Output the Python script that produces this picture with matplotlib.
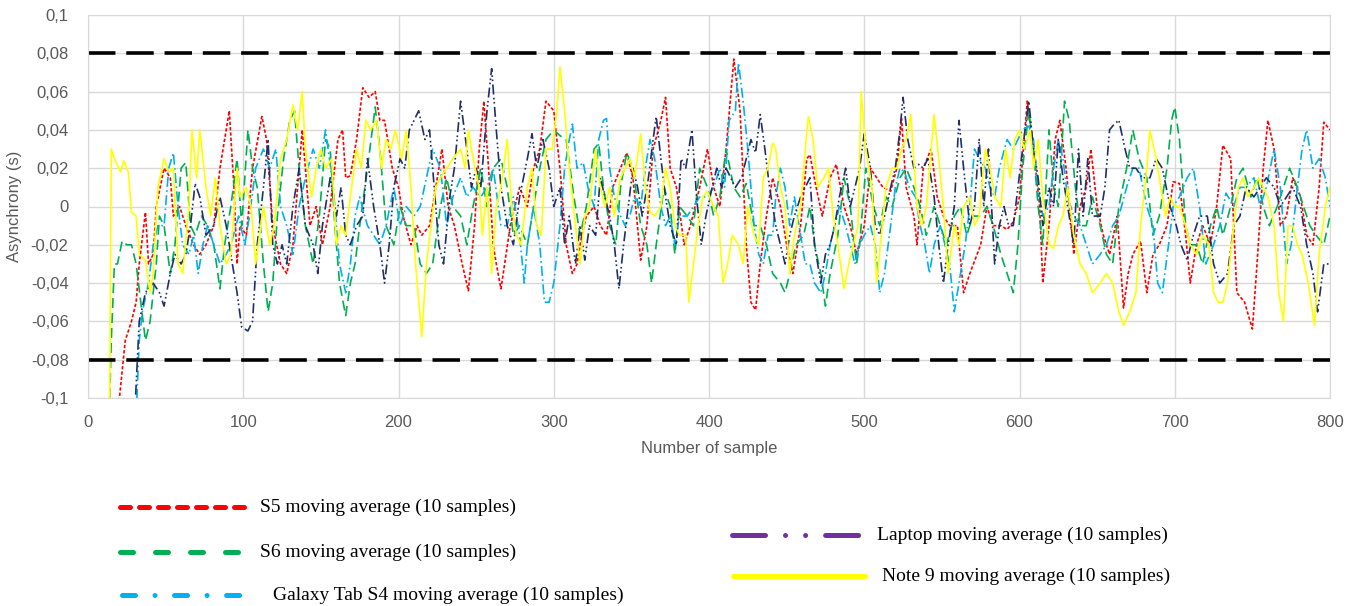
import matplotlib
matplotlib.use("Agg")
import numpy as np
from matplotlib import pyplot as plt
from matplotlib.lines import Line2D

# values (sample number, asynchrony in s)
s5_x = [19,24,28,31,33,37,39,42,44,49,53,55,59,63,68,72,76,81,85,91,94,96,98,102,106,112,115,119,124,128,132,138,143,147,151,156,161,164,166,169,173,177,181,185,188,191,196,200,203,208,212,215,220,224,228,232,236,241,245,249,252,255,258,261,263,266,272,278,283,287,291,295,300,304,308,312,315,318,321,326,330,334,338,343,347,351,356,360,364,369,372,375,379,384,388,394,399,403,407,411,416,420,424,427,430,433,437,441,446,450,454,459,463,465,469,473,478,482,487,491,495,500,504,508,512,517,521,524,527,532,534,538,543,547,551,555,560,564,568,575,579,583,588,592,596,600,605,609,613,615,619,623,626,630,635,639,643,646,650,654,658,663,667,670,673,678,682,686,690,695,699,703,707,710,714,718,723,727,731,736,740,745,750,753,757,760,764,768,772,776,781,785,789,793,796,800]
s5_y = [-0.11,-0.07,-0.06,-0.05,-0.03,-0.003,-0.03,-0.025,0.0,0.02,0.015,-0.005,0.0,-0.01,-0.02,-0.025,-0.02,-0.01,0.02,0.05,0.01,-0.03,-0.01,-0.015,0.02,0.047,0.035,-0.01,-0.03,-0.035,-0.02,0.04,-0.01,0.0,-0.02,0.0,0.035,0.04,0.015,0.016,0.035,0.062,0.057,0.06,0.045,0.045,0.02,0.01,-0.005,-0.02,-0.01,-0.015,-0.01,0.01,0.03,0.0,-0.01,-0.03,-0.044,-0.01,0.03,0.055,0.02,-0.02,-0.03,-0.043,-0.01,0.01,0.0,0.02,0.03,0.055,0.05,0.02,-0.02,-0.035,-0.03,-0.015,-0.005,0.0,-0.01,-0.015,0.01,0.02,0.028,0.015,-0.028,-0.01,0.03,0.045,0.057,0.02,0.01,-0.02,-0.01,0.01,0.03,0.01,0.0,0.03,0.077,0.05,-0.02,-0.05,-0.054,-0.03,-0.005,0.015,0.0,-0.02,-0.035,-0.01,0.025,0.027,0.01,-0.005,0.015,0.022,0.0,-0.01,-0.025,-0.01,0.02,0.015,0.01,0.008,0.02,0.046,0.01,-0.005,-0.02,0.02,0.03,0.005,-0.005,-0.01,-0.01,-0.045,-0.035,-0.02,0.0,-0.01,-0.01,-0.012,-0.008,0.005,0.055,0.03,0.0,-0.04,-0.01,0.035,0.045,0.02,-0.025,0.0,0.01,0.03,0.0,-0.015,-0.025,-0.005,-0.053,-0.035,-0.025,-0.018,-0.045,-0.025,-0.02,-0.01,0.013,0.012,-0.015,-0.04,-0.02,-0.01,-0.02,0.0,0.032,0.025,-0.045,-0.05,-0.064,-0.03,0.02,0.045,0.03,-0.01,-0.005,0.015,0.005,-0.015,-0.02,0.01,0.044,0.04]

s6_x = [14,15,17,19,22,25,28,31,34,37,40,44,46,49,53,56,60,63,66,69,73,77,81,85,88,92,96,99,103,106,109,113,116,119,122,126,130,133,136,140,145,149,153,156,159,162,166,169,172,175,180,185,188,192,197,201,205,210,214,218,222,227,231,235,240,244,248,253,257,261,266,270,274,278,283,287,291,295,300,304,308,313,317,321,326,329,332,336,340,343,347,351,356,360,363,366,371,375,378,381,386,390,394,399,403,407,411,416,420,424,429,433,437,441,446,449,452,456,461,465,468,472,475,478,483,487,491,495,497,501,506,510,514,518,523,527,532,536,540,545,549,553,558,562,566,570,575,579,583,588,592,596,599,602,606,609,612,615,619,622,625,629,632,636,639,643,647,652,656,660,664,669,673,677,682,686,690,695,698,700,703,707,710,714,718,723,727,731,736,740,744,749,753,757,761,766,770,774,779,783,787,791,796,800]
s6_y = [-0.1,-0.07,-0.03,-0.03,-0.018,-0.02,-0.02,-0.03,-0.05,-0.07,-0.06,-0.03,-0.005,-0.01,-0.035,-0.02,0.02,0.023,-0.01,-0.015,-0.005,-0.01,-0.02,-0.043,-0.02,0.0,0.025,-0.01,0.04,0.02,0.01,-0.03,-0.055,-0.04,-0.005,0.025,0.045,0.05,0.02,-0.01,-0.03,-0.005,0.035,0.03,-0.01,-0.04,-0.057,-0.04,-0.03,-0.01,0.02,0.052,0.03,-0.01,-0.02,0.0,-0.01,-0.01,-0.03,-0.035,-0.03,0.0,0.015,0.0,-0.005,-0.02,0.0,0.02,0.0,0.02,0.025,0.01,-0.015,-0.01,-0.02,0.0,0.02,0.035,0.04,0.037,0.035,0.005,-0.015,0.0,0.03,0.033,0.01,-0.01,-0.02,0.01,0.028,0.02,-0.01,-0.02,-0.04,-0.02,0.01,0.0,-0.025,0.0,-0.005,-0.01,0.02,0.01,-0.005,0.005,0.03,0.01,0.005,0.012,-0.01,-0.01,-0.02,-0.035,-0.04,-0.045,-0.035,-0.02,-0.015,0.0,-0.02,-0.035,-0.052,-0.035,-0.015,0.015,0.0,-0.03,-0.02,0.02,0.0,-0.01,0.005,0.0,0.015,0.02,0.01,0.0,-0.015,0.0,-0.01,-0.02,-0.005,0.0,-0.015,-0.005,-0.005,0.0,-0.01,-0.025,-0.035,-0.045,-0.02,0.02,0.05,0.03,0.0,-0.02,0.04,0.01,0.0,0.055,0.045,0.01,-0.01,-0.01,0.005,-0.01,-0.025,-0.03,0.0,0.02,0.04,0.025,0.015,-0.015,-0.005,0.02,0.045,0.052,0.035,-0.01,-0.02,-0.02,-0.03,-0.01,0.0,-0.015,0.0,0.015,0.02,0.005,0.015,0.0,-0.01,0.0,0.01,0.02,0.01,0.0,-0.01,-0.015,-0.02,-0.005]

tab_x = [31,33,35,39,42,45,49,52,55,58,61,65,68,71,74,77,81,85,89,92,97,101,104,108,113,117,121,124,128,132,136,140,145,149,153,158,162,166,169,172,175,180,184,188,192,197,201,205,210,214,218,222,227,231,235,240,244,248,253,257,261,266,270,274,278,281,283,287,291,294,297,300,304,307,310,312,315,319,322,326,329,332,334,336,339,343,346,349,352,356,359,362,365,369,372,375,378,381,386,390,394,399,403,407,410,413,417,419,422,425,429,432,435,438,441,443,446,449,452,455,459,462,465,468,472,475,478,481,484,488,491,494,497,500,504,507,510,513,517,520,523,526,529,533,536,539,542,545,549,552,555,558,561,565,568,571,574,578,581,584,587,592,596,599,602,606,609,612,615,619,622,625,628,631,635,639,643,647,652,656,660,664,669,673,677,682,686,689,692,696,699,703,708,712,716,720,725,729,733,738,742,746,751,755,759,764,768,772,775,779,782,785,789,793,797,800]
tab_y = [-0.11,-0.07,-0.055,-0.04,-0.02,-0.01,-0.01,0.02,0.028,0.0,-0.02,-0.025,-0.015,-0.035,-0.02,-0.01,-0.02,-0.03,-0.025,-0.02,-0.005,-0.02,-0.005,0.02,0.03,0.02,0.03,0.0,-0.01,-0.025,0.0,0.015,0.03,0.02,0.04,0.01,-0.03,-0.045,-0.03,-0.005,0.005,-0.01,-0.015,-0.02,-0.01,0.01,-0.01,0.0,-0.005,0.0,0.015,0.03,0.02,-0.01,0.005,0.015,0.005,0.01,0.005,0.01,0.02,-0.01,-0.01,0.005,-0.015,-0.04,-0.02,0.0,-0.02,-0.05,-0.05,-0.04,-0.01,0.02,0.035,0.043,0.02,0.023,0.01,0.0,0.035,0.045,0.046,0.02,0.005,-0.005,-0.01,-0.005,0.005,0.0,0.02,0.035,0.025,0.0,-0.01,-0.005,-0.02,-0.005,-0.005,0.0,0.005,0.005,0.01,0.02,0.01,0.045,0.05,0.075,0.055,0.03,-0.01,-0.025,-0.03,-0.015,-0.015,0.005,0.02,0.01,-0.01,0.005,-0.015,-0.03,-0.03,-0.04,-0.045,-0.035,-0.02,-0.01,0.0,-0.01,-0.02,-0.03,-0.02,-0.015,-0.01,-0.02,-0.045,-0.035,-0.01,0.01,0.02,0.018,0.01,0.005,-0.01,-0.02,-0.035,-0.02,-0.01,-0.02,-0.03,-0.055,-0.04,-0.02,0.0,0.03,0.025,0.02,0.01,0.005,0.02,0.035,0.03,0.035,0.04,0.042,0.035,0.01,-0.005,0.0,0.02,0.035,0.025,0.005,-0.005,-0.01,-0.02,-0.03,-0.025,-0.02,-0.01,-0.005,0.01,0.02,0.02,0.0,-0.01,-0.04,-0.045,-0.02,0.0,0.005,0.015,0.02,0.0,-0.03,-0.02,-0.01,0.007,0.0,0.01,0.01,0.015,0.0,0.01,0.03,0.01,-0.03,-0.02,0.01,0.03,0.04,0.02,0.025,0.015,0.0]

laptop_x = [30,33,37,42,46,49,53,56,60,63,66,69,72,76,81,85,89,92,96,99,103,106,109,113,116,119,122,125,128,132,136,140,145,148,151,156,160,163,166,169,173,177,180,184,188,191,194,197,201,204,207,210,213,217,220,223,226,229,233,236,240,244,247,250,253,257,260,263,266,270,274,278,283,286,289,293,297,300,304,307,310,314,317,320,323,327,330,333,336,339,342,345,348,351,354,357,361,364,366,369,372,375,379,382,385,389,392,395,398,402,405,408,411,414,417,421,424,427,430,433,436,439,443,446,449,452,455,459,462,465,468,472,475,478,481,484,488,491,494,497,500,504,507,510,513,517,520,523,525,528,532,535,538,541,545,548,551,554,558,561,564,568,571,574,577,580,584,587,590,593,596,599,602,606,609,612,615,619,622,625,628,631,635,638,641,644,647,652,655,658,661,664,668,671,675,679,684,688,692,697,701,704,708,712,716,721,725,729,734,738,742,746,751,755,759,764,768,772,776,781,785,789,792,796,800]
laptop_y = [-0.11,-0.06,-0.045,-0.04,-0.045,-0.052,-0.035,-0.025,-0.03,-0.025,-0.01,0.012,0.005,-0.015,-0.01,0.005,-0.01,-0.025,-0.045,-0.063,-0.065,-0.06,-0.02,0.01,0.035,-0.02,-0.03,-0.02,-0.03,0.0,0.02,-0.01,-0.02,-0.035,-0.01,0.015,-0.005,0.01,-0.015,-0.02,-0.01,-0.005,0.025,0.0,-0.02,-0.04,-0.02,0.01,0.025,0.02,0.04,0.045,0.05,0.035,0.04,0.01,-0.02,-0.03,0.005,0.02,0.055,0.03,0.01,0.02,0.01,0.05,0.072,0.04,0.01,-0.01,-0.02,0.005,0.025,0.038,0.02,0.035,0.02,0.0,0.01,-0.02,-0.005,-0.03,-0.01,-0.028,-0.01,-0.015,0.015,0.005,-0.005,-0.02,-0.043,-0.02,0.0,0.02,0.01,-0.005,0.015,0.035,0.047,0.025,0.005,-0.01,-0.02,0.025,0.02,0.04,0.005,-0.02,-0.005,0.01,0.02,0.01,0.02,0.015,0.01,0.015,0.025,0.035,0.028,0.048,0.03,0.01,-0.01,-0.02,-0.03,-0.015,-0.005,0.005,0.01,0.015,-0.02,-0.04,-0.025,-0.02,-0.01,0.005,0.02,0.0,0.01,0.02,0.038,0.02,-0.01,-0.015,-0.005,0.01,0.02,0.04,0.057,0.035,0.02,0.022,0.02,0.025,0.005,-0.02,-0.04,-0.02,0.0,0.045,0.02,-0.01,0.0,0.035,0.0,0.03,-0.03,-0.01,0.0,-0.01,-0.01,0.01,0.03,0.055,0.03,0.015,-0.01,0.01,0.0,0.035,0.015,0.0,-0.02,0.03,-0.005,0.025,-0.005,-0.005,0.01,0.04,0.043,0.045,0.03,0.02,0.02,0.015,0.015,0.025,0.02,0.0,-0.01,-0.02,-0.028,-0.015,-0.005,-0.005,-0.03,-0.04,-0.035,-0.01,-0.005,0.01,0.005,0.01,0.015,0.01,0.0,0.005,0.01,0.0,-0.02,-0.035,-0.055,-0.03,-0.03]

note9_x = [14,15,17,21,23,26,28,31,33,37,40,42,45,49,52,55,58,61,65,67,70,72,76,79,82,85,89,92,96,98,102,105,108,113,117,120,124,128,132,135,138,140,144,147,150,153,157,160,163,166,169,173,176,179,182,186,189,192,195,198,202,205,208,211,215,218,221,224,227,231,235,240,243,245,248,252,254,257,260,263,266,270,273,276,279,283,286,289,292,295,299,302,304,307,310,314,317,320,323,327,330,333,336,339,343,346,349,352,356,359,362,365,369,372,375,378,381,385,387,390,393,396,399,403,406,409,412,415,419,422,425,429,432,435,438,441,443,446,449,452,455,459,462,464,467,470,474,477,480,483,487,490,493,496,498,501,505,508,511,514,518,521,524,527,530,534,537,540,545,548,551,554,558,561,564,568,571,574,578,581,584,588,591,594,597,600,603,607,609,612,615,619,622,625,628,631,635,639,643,647,652,656,660,664,667,671,675,678,682,684,688,691,694,697,700,703,707,710,714,718,722,725,728,731,734,738,741,744,747,751,754,757,760,764,767,770,773,776,779,782,786,790,793,797,800]
note9_y = [-0.1,0.03,0.025,0.018,0.024,0.018,-0.003,-0.005,-0.025,-0.028,-0.045,-0.035,0.01,0.025,0.018,0.02,-0.03,-0.035,0.0,0.04,0.015,0.04,0.01,-0.005,0.015,-0.01,-0.03,-0.025,0.02,0.005,0.01,0.0,-0.03,0.0,-0.02,-0.01,0.025,0.035,0.053,0.04,0.06,0.03,0.005,0.02,0.03,0.02,0.025,-0.02,-0.01,-0.015,0.005,0.03,0.02,0.045,0.04,0.045,0.02,0.035,0.03,0.04,0.025,0.04,0.01,-0.03,-0.068,-0.03,-0.01,0.01,0.015,0.02,0.025,0.03,0.02,0.04,0.025,0.01,-0.015,0.01,-0.035,0.0,0.01,0.035,0.0,-0.015,-0.02,0.01,0.02,-0.01,-0.015,0.03,0.03,0.05,0.073,0.05,0.02,-0.01,-0.03,-0.005,0.0,0.03,0.01,0.0,0.01,-0.005,0.015,0.02,0.025,0.015,0.038,0.01,-0.003,-0.005,0.0,0.02,0.01,-0.01,-0.015,-0.015,-0.05,-0.03,-0.01,0.005,0.008,0.0,-0.005,-0.04,-0.03,-0.015,-0.02,-0.03,0.0,-0.015,-0.02,0.015,0.02,0.033,0.03,0.01,0.0,-0.035,-0.015,0.0,0.03,0.047,0.035,0.01,0.015,0.02,-0.005,-0.02,-0.043,-0.03,-0.02,-0.01,0.06,0.03,0.01,-0.04,-0.015,0.01,0.02,0.02,0.03,0.035,0.048,0.0,-0.01,0.0,0.048,0.025,0.0,-0.035,-0.01,-0.02,0.0,0.005,-0.01,-0.005,0.03,0.02,0.005,0.0,0.03,0.015,0.035,0.04,0.03,0.04,0.02,0.035,0.005,-0.02,-0.022,-0.01,-0.005,0.01,-0.015,-0.03,-0.035,-0.045,-0.04,-0.035,-0.04,-0.055,-0.062,-0.055,-0.045,-0.01,0.02,0.04,0.025,0.01,-0.005,0.005,0.0,0.0,-0.01,-0.02,-0.025,-0.015,-0.02,-0.045,-0.05,-0.05,-0.04,-0.01,0.01,0.015,0.005,0.01,0.015,0.01,0.005,-0.01,-0.045,-0.06,-0.01,-0.01,-0.02,-0.025,-0.04,-0.062,-0.025,0.0,0.01]

limit = 0.08
y_ticks = [-0.1, -0.08, -0.06, -0.04, -0.02, 0, 0.02, 0.04, 0.06, 0.08, 0.1]
y_labels = ['-0,1', '-0,08', '-0,06', '-0,04', '-0,02', '0', '0,02', '0,04', '0,06', '0,08', '0,1']
x_ticks = [0, 100, 200, 300, 400, 500, 600, 700, 800]

W, H = 1359, 606
fig = plt.figure(figsize=(W / 100, H / 100), dpi=100)
ax = fig.add_axes([88 / W, 1 - 398 / H, (1330 - 88) / W, (398 - 15) / H])

grid_c = '#D9D9D9'
txt_c = '#595959'

ax.plot(s5_x, s5_y, color='#FF0000', lw=1.2, ls=(0, (2, 1.2)))
ax.plot(s6_x, s6_y, color='#00B050', lw=1.2, ls=(0, (6, 3)))
ax.plot(tab_x, tab_y, color='#00B0F0', lw=1.2, ls=(0, (6, 2, 1, 2)))
ax.plot(laptop_x, laptop_y, color='#1F2F6B', lw=1.2, ls=(0, (6, 2, 1, 1.5, 1, 2)))
ax.plot(note9_x, note9_y, color='#FFFF00', lw=1.2, ls='-')

for lv in (limit, -limit):
    ax.axhline(lv, color='black', lw=2.6, dashes=(7.6, 3.0))

ax.set_xlim(0, 800)
ax.set_ylim(-0.1, 0.1)
ax.set_yticks(y_ticks)
ax.set_yticklabels(y_labels)
ax.set_xticks(x_ticks)
ax.grid(True, color=grid_c, lw=1)
ax.set_axisbelow(True)
for sp in ax.spines.values():
    sp.set_color(grid_c)
ax.tick_params(length=0, labelsize=12, labelcolor=txt_c)
ax.tick_params(axis='y', pad=14)
ax.tick_params(axis='x', pad=12)
for lab in ax.get_xticklabels() + ax.get_yticklabels():
    lab.set_family('Liberation Sans')
ax.set_xlabel('Number of sample', fontsize=12, color=txt_c, family='Liberation Sans', labelpad=8)
ax.set_ylabel('Asynchrony (s)', fontsize=12, color=txt_c, family='Liberation Sans', labelpad=6)

# legend drawn as separate block under the chart
def fx(px):
    return px / W

def fy(py):
    return 1 - py / H

leg_items = [
    (120, 245, 507, '#FF0000', (0, (2.0, 1.8)), 260, 'S5 moving average (10 samples)'),
    (120, 245, 552, '#00B050', (0, (2.6, 4.4)), 260, 'S6 moving average (10 samples)'),
    (122, 245, 595, '#00B0F0', (0, (2.6, 3.9, 0.01, 3.9)), 273, 'Galaxy Tab S4 moving average (10 samples)'),
    (732, 864, 535, '#7030A0', (0, (6.6, 4.0, 0.01, 4.0, 0.01, 4.0)), 877, 'Laptop moving average (10 samples)'),
    (733, 865, 576, '#FFFF00', '-', 882, 'Note 9 moving average (10 samples)'),
]
for x0, x1, yy, col, ls, tx, label in leg_items:
    ln = Line2D([fx(x0), fx(x1)], [fy(yy), fy(yy)], transform=fig.transFigure,
                color=col, lw=3.6, ls=ls, solid_capstyle='round', dash_capstyle='round')
    fig.add_artist(ln)
    fig.text(fx(tx), fy(yy), label, fontsize=14, family='Liberation Serif',
             va='center', ha='left', color='black')

fig.savefig('out.png', dpi=100)
